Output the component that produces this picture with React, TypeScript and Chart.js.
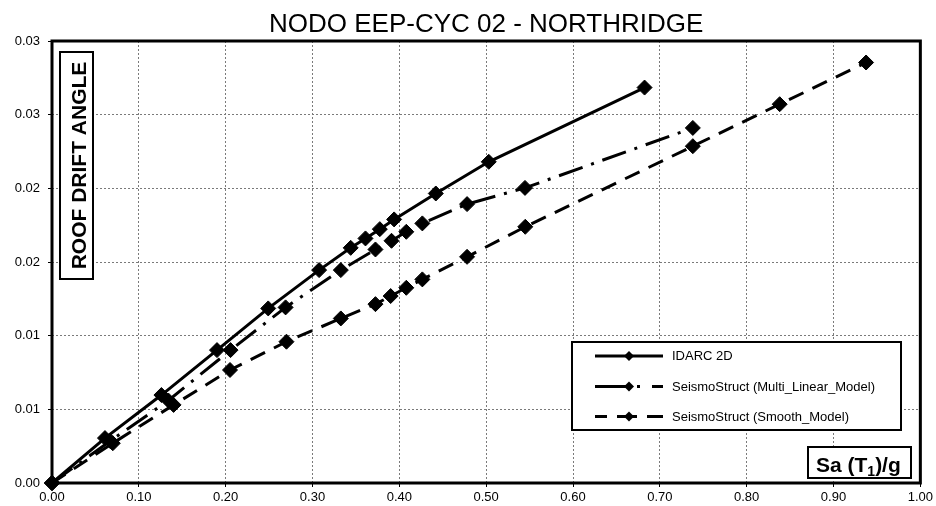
import React, { useEffect, useRef } from 'react';
import { Chart, registerables } from 'chart.js';

Chart.register(...registerables);

const TITLE = 'NODO EEP-CYC 02 - NORTHRIDGE';
const Y_LABEL = 'ROOF DRIFT ANGLE';
const X_LABEL_MAIN = 'Sa (T';
const X_LABEL_SUB = '1';
const X_LABEL_END = ')/g';

const X_TICK_LABELS = ['0.00', '0.10', '0.20', '0.30', '0.40', '0.50', '0.60', '0.70', '0.80', '0.90', '1.00'];
const Y_TICK_LABELS = ['0.00', '0.01', '0.01', '0.02', '0.02', '0.03', '0.03'];

const SERIES_NAMES = ['IDARC 2D', 'SeismoStruct (Multi_Linear_Model)', 'SeismoStruct (Smooth_Model)'];

const IDARC_X = [0, 0.061, 0.126, 0.19, 0.249, 0.3076, 0.344, 0.361, 0.3775, 0.394, 0.442, 0.503, 0.6824];
const IDARC_Y = [0, 0.00305, 0.00597, 0.00902, 0.01185, 0.01445, 0.01596, 0.0166, 0.01723, 0.01789, 0.01965, 0.0218, 0.02684];

const MULTI_X = [0, 0.067, 0.134, 0.2056, 0.269, 0.3326, 0.3725, 0.391, 0.408, 0.4265, 0.478, 0.5447, 0.738];
const MULTI_Y = [0, 0.00285, 0.0056, 0.00902, 0.01192, 0.01445, 0.01585, 0.01644, 0.01705, 0.01762, 0.01893, 0.02003, 0.0241];

const SMOOTH_X = [0, 0.07, 0.14, 0.205, 0.27, 0.3326, 0.3725, 0.39, 0.408, 0.4265, 0.478, 0.545, 0.738, 0.838, 0.9375];
const SMOOTH_Y = [0, 0.0027, 0.0053, 0.00767, 0.00959, 0.01117, 0.01214, 0.01269, 0.01325, 0.01382, 0.01535, 0.01739, 0.02286, 0.02571, 0.02854];

const DASHES: number[][] = [[], [25, 9, 3, 9], [16, 10]];
const LEGEND_DASHES: number[][] = [[], [32, 10, 3, 12, 20], [12, 10, 20, 10, 20]];

const FONT = '"Liberation Sans", Arial, sans-serif';

function toPoints(xs: number[], ys: number[]) {
  return xs.map((x, i) => ({ x, y: ys[i] }));
}

function diamond(ctx: CanvasRenderingContext2D, cx: number, cy: number, r: number) {
  ctx.beginPath();
  ctx.moveTo(cx, cy - r);
  ctx.lineTo(cx + r, cy);
  ctx.lineTo(cx, cy + r);
  ctx.lineTo(cx - r, cy);
  ctx.closePath();
  ctx.fill();
}

const decorPlugin = {
  id: 'decor',
  beforeDatasetsDraw(chart: any) {
    const { ctx, chartArea } = chart;
    ctx.save();
    ctx.strokeStyle = '#000';
    ctx.lineWidth = 3;
    ctx.setLineDash([]);
    ctx.strokeRect(chartArea.left, chartArea.top, chartArea.right - chartArea.left, chartArea.bottom - chartArea.top);
    ctx.restore();
  },
  afterDraw(chart: any) {
    const { ctx, chartArea } = chart;
    ctx.save();
    // Title
    ctx.fillStyle = '#000';
    ctx.font = `26px ${FONT}`;
    ctx.textAlign = 'center';
    ctx.textBaseline = 'alphabetic';
    ctx.fillText(TITLE, (chartArea.left + chartArea.right) / 2, 32);

    // Y label box
    ctx.fillStyle = '#fff';
    ctx.fillRect(60, 52, 33, 227);
    ctx.strokeStyle = '#000';
    ctx.lineWidth = 2;
    ctx.strokeRect(60, 52, 33, 227);
    ctx.fillStyle = '#000';
    ctx.font = `bold 21px ${FONT}`;
    ctx.save();
    ctx.translate(86, 165.5);
    ctx.rotate(-Math.PI / 2);
    ctx.textAlign = 'center';
    ctx.textBaseline = 'alphabetic';
    ctx.fillText(Y_LABEL, 0, 0);
    ctx.restore();

    // X label box
    ctx.fillStyle = '#fff';
    ctx.fillRect(808, 447, 103, 31);
    ctx.strokeStyle = '#000';
    ctx.lineWidth = 2;
    ctx.strokeRect(808, 447, 103, 31);
    ctx.fillStyle = '#000';
    ctx.textAlign = 'left';
    ctx.textBaseline = 'alphabetic';
    ctx.font = `bold 21px ${FONT}`;
    let x = 816;
    ctx.fillText(X_LABEL_MAIN, x, 471.5);
    x += ctx.measureText(X_LABEL_MAIN).width;
    ctx.font = `bold 14px ${FONT}`;
    ctx.fillText(X_LABEL_SUB, x, 475.5);
    x += ctx.measureText(X_LABEL_SUB).width;
    ctx.font = `bold 21px ${FONT}`;
    ctx.fillText(X_LABEL_END, x, 471.5);

    // Legend
    const bx = 572, by = 342, bw = 329, bh = 88;
    ctx.fillStyle = '#fff';
    ctx.fillRect(bx, by, bw, bh);
    ctx.strokeStyle = '#000';
    ctx.lineWidth = 2;
    ctx.strokeRect(bx, by, bw, bh);
    const rows = [356, 386.5, 416.5];
    chart.data.datasets.forEach((ds: any, i: number) => {
      const y = rows[i];
      ctx.strokeStyle = '#000';
      ctx.lineWidth = 3;
      ctx.lineCap = 'butt';
      ctx.setLineDash(LEGEND_DASHES[i] || []);
      ctx.beginPath();
      ctx.moveTo(595, y);
      ctx.lineTo(663, y);
      ctx.stroke();
      ctx.setLineDash([]);
      ctx.fillStyle = '#000';
      diamond(ctx, 629, y, 5);
      ctx.font = `13px ${FONT}`;
      ctx.textBaseline = 'middle';
      ctx.fillText(ds.label, 672, y + 0.5);
    });
    ctx.restore();
  },
};

export default function App() {
  const canvasRef = useRef<HTMLCanvasElement | null>(null);

  useEffect(() => {
    const canvas = canvasRef.current;
    if (!canvas) return;
    const series = [
      toPoints(IDARC_X, IDARC_Y),
      toPoints(MULTI_X, MULTI_Y),
      toPoints(SMOOTH_X, SMOOTH_Y),
    ];
    const chart = new Chart(canvas, {
      type: 'scatter',
      data: {
        datasets: series.map((data, i) => ({
          label: SERIES_NAMES[i],
          data,
          showLine: true,
          borderColor: '#000',
          backgroundColor: '#000',
          borderWidth: 3,
          borderDash: DASHES[i],
          borderCapStyle: 'butt',
          pointStyle: 'rectRot',
          pointRadius: 7.5,
          pointBorderWidth: 1,
          pointBackgroundColor: '#000',
          pointBorderColor: '#000',
          tension: 0,
          clip: false,
        })),
      },
      options: {
        animation: false,
        responsive: true,
        maintainAspectRatio: false,
        layout: { padding: { top: 41, right: 15, left: 0, bottom: 0 } },
        plugins: {
          legend: { display: false },
          title: { display: false },
          tooltip: { enabled: false },
        },
        scales: {
          x: {
            type: 'linear',
            min: 0,
            max: 1,
            ticks: {
              stepSize: 0.1,
              maxRotation: 0,
              autoSkip: false,
              padding: 3,
              color: '#000',
              font: { family: FONT, size: 13 },
              callback: (_v: any, i: number) => X_TICK_LABELS[i],
            },
            grid: {
              color: '#7a7a7a',
              lineWidth: 1,
              tickLength: 4,
              tickColor: '#000',
              tickWidth: 1,
              tickBorderDash: [],
            },
            border: { display: false, dash: [2, 2] },
            afterFit: (scale: any) => { scale.height = 23; },
          },
          y: {
            type: 'linear',
            min: 0,
            max: 0.03,
            ticks: {
              stepSize: 0.005,
              autoSkip: false,
              padding: 8,
              color: '#000',
              font: { family: FONT, size: 13 },
              callback: (_v: any, i: number) => Y_TICK_LABELS[i],
            },
            grid: {
              color: '#7a7a7a',
              lineWidth: 1,
              tickLength: 4,
              tickColor: '#000',
              tickWidth: 1,
              tickBorderDash: [],
            },
            border: { display: false, dash: [2, 2] },
            afterFit: (scale: any) => { scale.width = 52; },
          },
        },
      } as any,
      plugins: [decorPlugin],
    });
    return () => chart.destroy();
  }, []);

  return (
    <div style={{ position: 'fixed', left: 0, top: 0, width: 936, height: 506, background: '#fff' }}>
      <canvas ref={canvasRef} />
    </div>
  );
}
